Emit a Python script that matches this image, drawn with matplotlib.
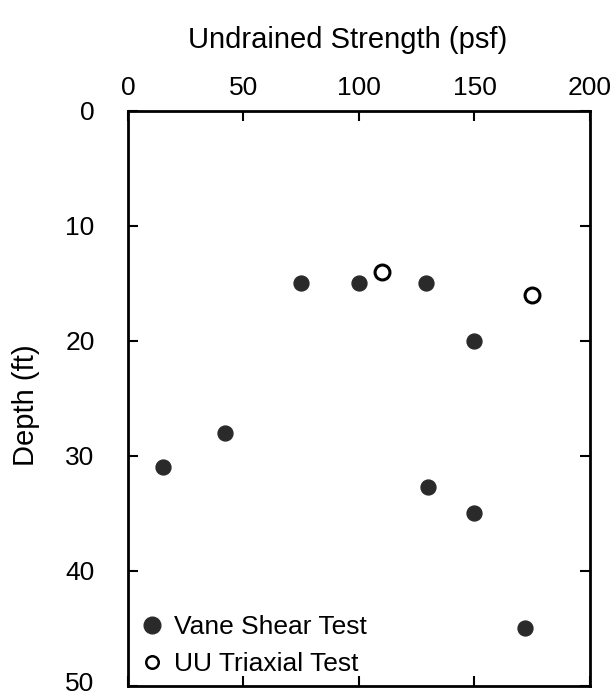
import matplotlib
matplotlib.use("Agg")
import matplotlib.pyplot as plt
import matplotlib.transforms as mtransforms
from matplotlib.lines import Line2D

plt.rcParams['font.family'] = ['Liberation Sans', 'DejaVu Sans']

# vane shear test results
vane_strength = [75, 100, 129, 150, 42, 15, 130, 150, 172]
vane_depth = [15, 15, 15, 20, 28, 31, 32.7, 35, 45]

# UU triaxial test results
uu_strength = [110, 175]
uu_depth = [14, 16]

x_ticks = [0, 50, 100, 150, 200]
y_ticks = [0, 10, 20, 30, 40, 50]


fig = plt.figure(figsize=(6.11, 6.98), dpi=100)
ax = fig.add_axes([0.2095, 0.0172, 0.756, 0.824])

ax.scatter(vane_strength, vane_depth, s=115, color='#2a2a2a', zorder=3)
ax.scatter(uu_strength, uu_depth, s=115, facecolor='white', edgecolor='black',
           linewidth=2.2, zorder=3)

ax.set_xlim(0, 200)
ax.set_ylim(50, 0)
ax.set_xticks(x_ticks)
ax.set_yticks(y_ticks)

ax.xaxis.tick_top()
ax.xaxis.set_label_position('top')
ax.tick_params(axis='both', direction='in', length=7, width=1.5,
               labelsize=19, top=True, bottom=True, left=True, right=True)
ax.tick_params(axis='x', pad=8)
ax.tick_params(axis='y', pad=24)

for sp in ax.spines.values():
    sp.set_linewidth(2)

# nudge the bottom depth label up a little so it stays inside the figure
last = ax.get_yticklabels()[-1]
last.set_transform(last.get_transform() +
                   mtransforms.ScaledTranslation(0, 0.04, fig.dpi_scale_trans))

ax.set_xlabel("Undrained Strength (psf)", fontsize=21)
ax.xaxis.set_label_coords(0.476, 1.110)
ax.set_ylabel("Depth (ft)", fontsize=21)
ax.yaxis.set_label_coords(-0.19, 0.489)

handles = [
    Line2D([], [], marker='o', linestyle='none', color='#2a2a2a', markersize=12),
    Line2D([], [], marker='o', linestyle='none', markerfacecolor='white',
           markeredgecolor='black', markeredgewidth=1.8, markersize=9),
]
ax.legend(handles, ["Vane Shear Test", "UU Triaxial Test"], loc='lower left',
          bbox_to_anchor=(0.012, -0.001), frameon=False, fontsize=19,
          handlelength=0.6, handletextpad=0.55, borderaxespad=0,
          labelspacing=0.5)

fig.savefig("out.png", dpi=100)
